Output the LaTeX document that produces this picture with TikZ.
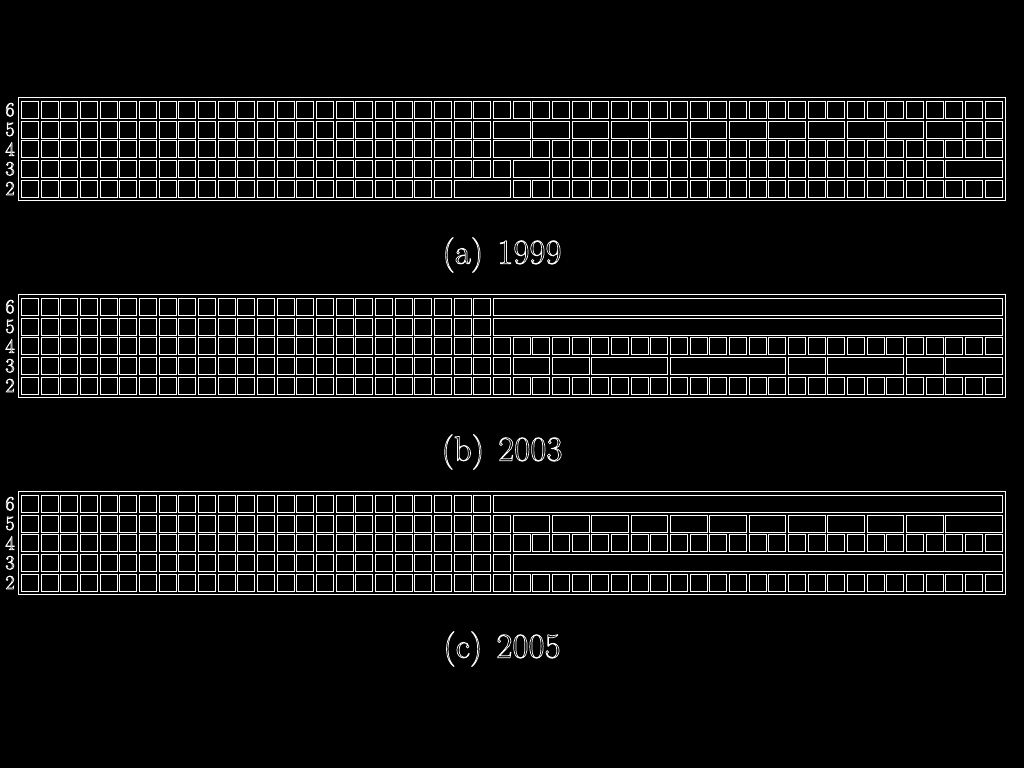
\documentclass[tikz,border=0pt]{standalone}
\usepackage{tikz}

\tikzset{
	zelle/.style={draw=white, line width=0.7pt},
	loesch/.style={fill=black},
	zahl/.style={text=white, inner sep=0pt, font=\fontsize{20}{20}\selectfont},
	titel/.style={text=white, inner sep=0pt, font=\fontsize{35}{35}\selectfont},
}

% Text nur als Umriss
\newcommand{\umriss}[1]{\special{pdf:literal direct 1 Tr 0.7 w}#1\special{pdf:literal direct 0 Tr}}

% Verschmolzene Zellen: Zeile/Startspalte/Breite
\newcommand{\verbunda}{1/24/2,1/26/2,1/28/2,1/30/2,1/32/2,1/34/2,1/36/2,1/38/2,1/40/2,1/42/2,1/44/2,1/46/2,2/24/2,3/25/2,3/47/3,4/22/3}
\newcommand{\verbundb}{0/24/26,1/24/26,3/25/2,3/27/2,3/29/4,3/33/6,3/39/2,3/41/4,3/45/2,3/47/3}
\newcommand{\verbundc}{0/24/26,1/25/2,1/27/2,1/29/2,1/31/2,1/33/2,1/35/2,1/37/2,1/39/2,1/41/2,1/43/2,1/45/2,1/47/3,3/25/25}

\begin{document}
\begin{tikzpicture}[x=1pt, y=-1pt]
		% Hintergrund
		\fill[black] (0,0) rectangle (1024,768);
		\useasboundingbox (0,0) rectangle (1024,768);
		\def\zb{19.667} % Zellbreite
		
		\foreach \p/\jahr/\oben in {a/1999/100, b/2003/297, c/2005/494} {
			% Rahmen um alles
			\draw[zelle] (18,{\oben-2.5}) rectangle (1005.5,{\oben+5*\zb+2});
			\foreach \r in {0,...,4} {
				% Einzelzellen
				\foreach \s in {0,...,49} {
					\draw[zelle] ({20+\s*\zb+1.2},{\oben+\r*\zb+1.2}) rectangle ({20+(\s+1)*\zb-1.2},{\oben+(\r+1)*\zb-1.2});
				}
				% Zeilennummer links
				\pgfmathtruncatemacro\n{6-\r}
				\node[zahl] (z\p\r) at (10,{\oben+\r*\zb+\zb/2}) {\umriss{\n}};
			}
			% verschmolzene Zellen
			\edef\liste{\csname verbund\p\endcsname}
			\foreach \r/\s/\l in \liste {
				\fill[loesch] ({20+\s*\zb+0.5},{\oben+\r*\zb+0.5}) rectangle ({20+(\s+\l)*\zb-0.5},{\oben+(\r+1)*\zb-0.5});
				\draw[zelle] ({20+\s*\zb+1.2},{\oben+\r*\zb+1.2}) rectangle ({20+(\s+\l)*\zb-1.2},{\oben+(\r+1)*\zb-1.2});
			}
			% Unterschrift
			\node[titel] (t\p) at (502,{\oben+155}) {\umriss{(\p)\hspace{0.4em}\jahr}};
		}
\end{tikzpicture}
\end{document}
